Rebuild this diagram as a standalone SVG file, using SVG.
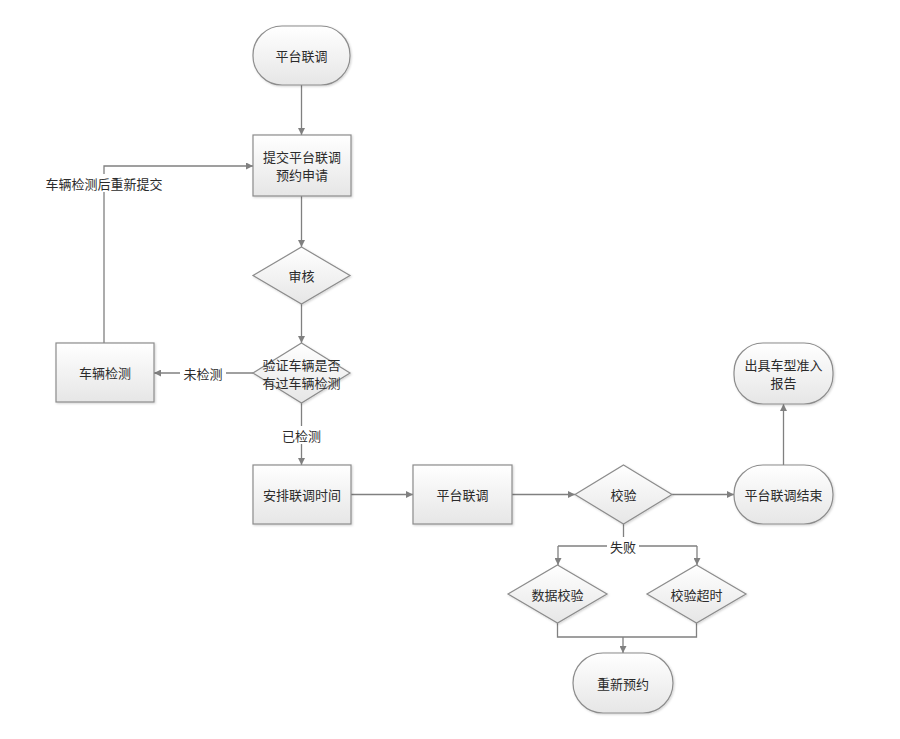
<svg xmlns="http://www.w3.org/2000/svg" width="900" height="739" viewBox="0 0 900 739">
<style>
.s{fill:url(#g);stroke:#8c8c8c;stroke-width:1.2;filter:url(#sh)}
.t{font-family:"Noto Sans CJK SC",sans-serif;font-size:13px;fill:#2b2b2b;text-anchor:middle;dominant-baseline:central}
.c{fill:none;stroke:#808080;stroke-width:1.3}
.a{marker-end:url(#ar)}
</style>
<defs>
<linearGradient id="g" x1="0" y1="0" x2="0" y2="1">
<stop offset="0" stop-color="#ffffff"/>
<stop offset="1" stop-color="#e6e6e6"/>
</linearGradient>
<filter id="sh" x="-10%" y="-10%" width="130%" height="130%">
<feDropShadow dx="1" dy="1" stdDeviation="0.8" flood-color="#000" flood-opacity="0.18"/>
</filter>
<marker id="ar" viewBox="0 0 10 10" refX="10" refY="5" markerWidth="7" markerHeight="7" markerUnits="userSpaceOnUse" orient="auto">
<path d="M0,0 L10,5 L0,10 z" fill="#808080"/>
</marker>
</defs>
<rect width="900" height="739" fill="#ffffff"/>
<g id="connectors">
<path class="c a" d="M301.5,85 V135"/>
<path class="c a" d="M301.5,196 V247"/>
<path class="c a" d="M301.5,304 V343"/>
<path class="c a" d="M253,373 H154"/>
<path class="c a" d="M301.5,403 V465"/>
<path class="c a" d="M104,343 V166 H253"/>
<path class="c a" d="M351,494.5 H413"/>
<path class="c a" d="M512,494.5 H575"/>
<path class="c a" d="M672,494.5 H734"/>
<path class="c a" d="M783.5,465 V404"/>
<path class="c" d="M623.5,524 V546"/>
<path class="c a" d="M558,546 H697 M558,546 V565"/>
<path class="c a" d="M697,546 V565"/>
<path class="c" d="M557.5,623 V637 H696.5 V623"/>
<path class="c a" d="M623,637 V653"/>
<rect x="41" y="174" width="126" height="18" fill="#ffffff"/>
<text class="t" x="104" y="183">车辆检测后重新提交</text>
<rect x="180" y="364" width="46" height="18" fill="#ffffff"/>
<text class="t" x="203" y="373">未检测</text>
<rect x="279" y="426" width="46" height="18" fill="#ffffff"/>
<text class="t" x="301.5" y="435">已检测</text>
<rect x="607" y="537" width="32" height="18" fill="#ffffff"/>
<text class="t" x="623" y="546">失败</text>
</g>
<g id="n_start"><rect class="s" x="253" y="26" width="97" height="59" rx="29" ry="29"/><text class="t" x="301.5" y="55.5">平台联调</text></g>
<g id="n_submit"><rect class="s" x="253" y="135" width="98" height="61"/><text class="t" x="302" y="156.5">提交平台联调</text><text class="t" x="302" y="174.5">预约申请</text></g>
<g id="n_review"><polygon class="s" points="301.5,247 350,275.5 301.5,304 253,275.5"/><text class="t" x="301.5" y="275.5">审核</text></g>
<g id="n_verify"><polygon class="s" points="301.5,343 350,373 301.5,403 253,373"/><text class="t" x="301.5" y="364">验证车辆是否</text><text class="t" x="301.5" y="382">有过车辆检测</text></g>
<g id="n_check"><rect class="s" x="56" y="343" width="98" height="59"/><text class="t" x="105" y="372.5">车辆检测</text></g>
<g id="n_schedule"><rect class="s" x="253" y="465" width="98" height="59"/><text class="t" x="302" y="494.5">安排联调时间</text></g>
<g id="n_joint"><rect class="s" x="413" y="465" width="99" height="59"/><text class="t" x="462.5" y="494.5">平台联调</text></g>
<g id="n_validate"><polygon class="s" points="623.5,465 672,494.5 623.5,524 575,494.5"/><text class="t" x="623.5" y="494.5">校验</text></g>
<g id="n_end"><rect class="s" x="734" y="465" width="99" height="59" rx="29" ry="29"/><text class="t" x="783.5" y="494.5">平台联调结束</text></g>
<g id="n_report"><rect class="s" x="734" y="343" width="99" height="61" rx="29" ry="29"/><text class="t" x="783.5" y="364.5">出具车型准入</text><text class="t" x="783.5" y="382.5">报告</text></g>
<g id="n_data"><polygon class="s" points="557.5,565 607,594 557.5,623 508,594"/><text class="t" x="557.5" y="594">数据校验</text></g>
<g id="n_timeout"><polygon class="s" points="696.5,565 746,594 696.5,623 647,594"/><text class="t" x="696.5" y="594">校验超时</text></g>
<g id="n_rebook"><rect class="s" x="573" y="653" width="100" height="60" rx="30" ry="30"/><text class="t" x="623" y="683">重新预约</text></g>
</svg>
